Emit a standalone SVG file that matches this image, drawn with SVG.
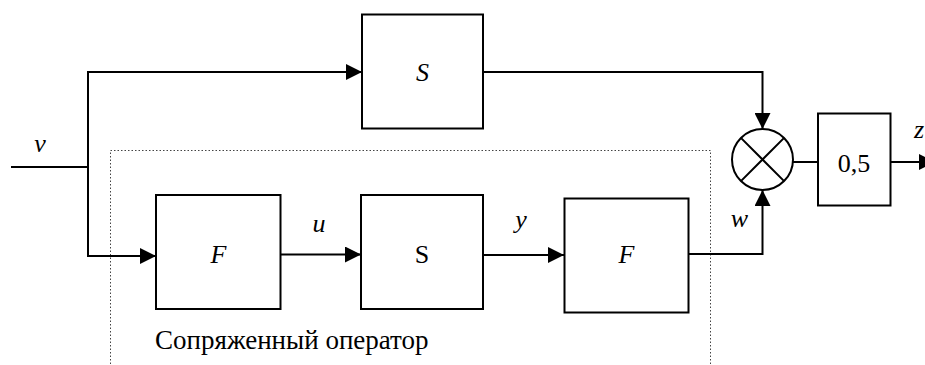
<svg xmlns="http://www.w3.org/2000/svg" width="925" height="365" viewBox="0 0 925 365">
  <style>
    .box { fill: #fff; stroke: #000; stroke-width: 2; }
    .wire { fill: none; stroke: #000; stroke-width: 2; }
    .frame { fill: none; stroke: #444; stroke-width: 1; stroke-dasharray: 1.5 2; }
    .t { font-family: 'Liberation Serif', 'Times New Roman', serif; font-size: 26px; fill: #000; }
    .i { font-style: italic; }
    .c { text-anchor: middle; }
  </style>
  <defs>
    <marker id="arrow" markerUnits="userSpaceOnUse" markerWidth="16" markerHeight="16" refX="16" refY="8" orient="auto">
      <path d="M0,0 L16,8 L0,16 Z" fill="#000"/>
    </marker>
  </defs>

  <!-- conjugate operator frame -->
  <g id="conjugate-frame">
    <rect class="frame" x="110.5" y="150.5" width="600" height="240"/>
    <text class="t" x="155" y="349" style="font-size: 27px">Сопряженный оператор</text>
  </g>

  <!-- connectors and signal labels -->
  <g id="connectors">
    <path class="wire" d="M11,167 H88"/>
    <path class="wire" d="M88,72 H362" marker-end="url(#arrow)"/>
    <path class="wire" d="M88,71 V256 H156" marker-end="url(#arrow)"/>
    <path class="wire" d="M281,254.5 H361" marker-end="url(#arrow)"/>
    <path class="wire" d="M483,255 H564" marker-end="url(#arrow)"/>
    <path class="wire" d="M689,254 H762.5 V190" marker-end="url(#arrow)"/>
    <path class="wire" d="M483,72 H762.5 V129" marker-end="url(#arrow)"/>
    <path class="wire" d="M793,162 H818"/>
    <path class="wire" d="M891,162 H935" marker-end="url(#arrow)"/>
    <text class="t i c" x="40" y="152">v</text>
    <text class="t i c" x="319" y="232">u</text>
    <text class="t i c" x="521" y="228">y</text>
    <text class="t i c" x="739.5" y="227">w</text>
    <text class="t i" x="914" y="138">z</text>
  </g>

  <g id="S-top">
    <rect class="box" x="362" y="14.5" width="121" height="114"/>
    <text class="t i c" x="422.5" y="81">S</text>
  </g>

  <g id="F-left">
    <rect class="box" x="156" y="195" width="124.5" height="114"/>
    <text class="t i c" x="218.5" y="263">F</text>
  </g>

  <g id="S-mid">
    <rect class="box" x="361" y="195" width="122" height="114"/>
    <text class="t c" x="422" y="263">S</text>
  </g>

  <g id="F-right">
    <rect class="box" x="564.5" y="198.5" width="124" height="114"/>
    <text class="t i c" x="626.5" y="263">F</text>
  </g>

  <g id="multiplier">
    <circle class="box" cx="762.5" cy="159.5" r="30.5"/>
    <path class="wire" d="M740.9,137.9 L784.1,181.1 M784.1,137.9 L740.9,181.1"/>
  </g>

  <g id="gain">
    <rect class="box" x="818" y="113.5" width="72.5" height="92"/>
    <text class="t c" x="854" y="172">0,5</text>
  </g>
</svg>
